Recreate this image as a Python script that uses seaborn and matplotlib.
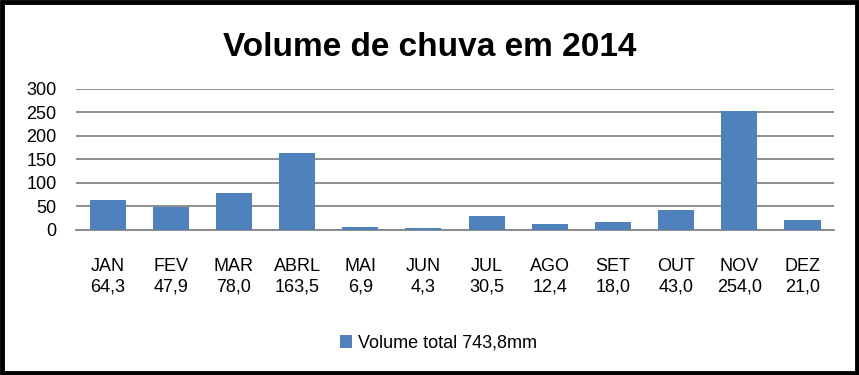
import matplotlib
matplotlib.use("Agg")

import matplotlib.pyplot as plt
import seaborn as sns
import pandas as pd
from matplotlib.patches import Rectangle

# monthly rainfall, 2014
months = ["JAN", "FEV", "MAR", "ABRL", "MAI", "JUN",
          "JUL", "AGO", "SET", "OUT", "NOV", "DEZ"]
volumes = [64.3, 47.9, 78.0, 163.5, 6.9, 4.3, 30.5, 12.4, 18.0, 43.0, 254.0, 21.0]
total_label = "Volume total 743,8mm"
y_ticks = [0, 50, 100, 150, 200, 250, 300]

df = pd.DataFrame({"mes": months, "volume": volumes})
df["label"] = [f"{m}\n{v:.1f}".replace(".", ",") for m, v in zip(months, volumes)]

sns.set_theme(style="white")
plt.rcParams["font.family"] = ["Liberation Sans", "DejaVu Sans"]
plt.rcParams["text.color"] = "black"

fig = plt.figure(figsize=(8.59, 3.75), dpi=100)
ax = fig.add_axes([0.0885, 0.3867, 0.8825, 0.376])

sns.barplot(data=df, x="label", y="volume", color="#4F81BD", width=0.57,
            saturation=1, ax=ax, label=total_label, zorder=3,
            edgecolor="none", linewidth=0)

ax.set_ylim(0, 300)
ax.set_yticks(y_ticks)
ax.set_xlim(-0.5, len(months) - 0.5)
ax.yaxis.grid(True, color="#868686", linewidth=1.3, zorder=0)
for s in ["top", "right", "left"]:
    ax.spines[s].set_visible(False)
ax.spines["bottom"].set_color("#868686")
ax.spines["bottom"].set_linewidth(1.3)
ax.set_xlabel("")
ax.set_ylabel("")
ax.tick_params(axis="y", length=0, pad=14, labelsize=13, labelcolor="black")
ax.tick_params(axis="x", length=0, pad=20, labelsize=13, labelcolor="black")
for t in ax.get_xticklabels():
    t.set_linespacing(1.25)

ax.legend(loc="center", bbox_to_anchor=(0.51, 0.085), bbox_transform=fig.transFigure,
          frameon=False, fontsize=13, handlelength=0.7, handleheight=0.7,
          handletextpad=0.3)

fig.suptitle("Volume de chuva em 2014", x=0.5, y=0.915, fontsize=24,
             fontweight="bold", color="black")

# black frame around the chart
fig.patches.append(Rectangle((0.0025, 0.005), 0.995, 0.99, transform=fig.transFigure,
                             fill=False, edgecolor="black", linewidth=3.5))

fig.savefig("out.png", dpi=100)
plt.close("all")
